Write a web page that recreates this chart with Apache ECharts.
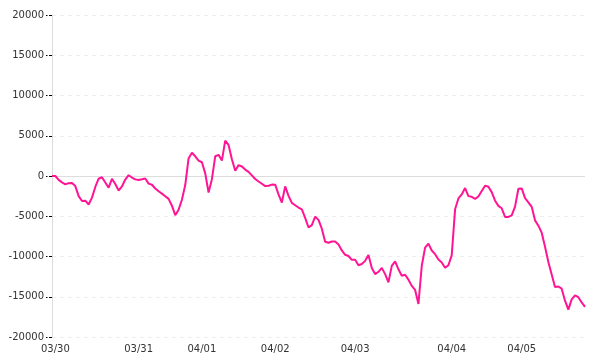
<!DOCTYPE html>
<html>
<head>
<meta charset="utf-8">
<script src="https://cdn.jsdelivr.net/npm/echarts@6/dist/echarts.min.js"></script>
<style>
html,body{margin:0;padding:0;background:#fff;}
#chart{width:600px;height:360px;}
</style>
</head>
<body>
<div id="chart"></div>
<script>
// Day labels and the index of the first point of each day
const dayLabels = ['03/30', '03/31', '04/01', '04/02', '04/03', '04/04', '04/05'];
const dayStarts = [1, 26, 45, 67, 91, 120, 141];

// Series values
const values = [
  0, 0, -480, -790, -1030, -890, -880, -1250, -2500, -3100,
  -3060, -3540, -2690, -1360, -340, -160, -800, -1450, -350, -1000,
  -1800, -1300, -440, 100, -190, -420, -490, -400, -300, -950,
  -1090, -1550, -1900, -2190, -2510, -2840, -3690, -4870, -4190, -2950,
  -1130, 2180, 2890, 2450, 1910, 1710, 330, -2050, -400, 2450,
  2630, 1920, 4400, 3860, 2090, 650, 1350, 1180, 800, 520,
  80, -370, -680, -960, -1250, -1210, -1070, -1080, -2290, -3300,
  -1290, -2470, -3340, -3630, -3920, -4160, -5200, -6400, -6100, -5060,
  -5450, -6540, -8160, -8290, -8130, -8150, -8510, -9250, -9790, -9940,
  -10410, -10410, -11080, -10940, -10540, -9800, -11430, -12180, -11900, -11410,
  -12190, -13200, -11160, -10600, -11590, -12400, -12270, -12880, -13650, -14150,
  -15900, -11150, -8900, -8400, -9250, -9710, -10380, -10740, -11400, -11080,
  -9830, -4140, -2790, -2290, -1500, -2500, -2590, -2840, -2540, -1870,
  -1200, -1330, -2000, -3070, -3710, -4010, -5090, -5090, -4880, -3800,
  -1580, -1540, -2750, -3270, -3830, -5510, -6170, -7040, -8780, -10690,
  -12250, -13800, -13730, -14000, -15490, -16600, -15330, -14830, -15060, -15710,
  -16250
];

// y-axis ticks
const yMin = -20000, yMax = 20000, yStep = 5000;

// categories built from the day labels
const categories = values.map(function (v, i) {
  let lab = '';
  for (let d = 0; d < dayStarts.length; d++) {
    if (i >= dayStarts[d]) lab = dayLabels[d];
  }
  return lab + '#' + i;
});

const chart = echarts.init(document.getElementById('chart'), null, {renderer: 'canvas'});
chart.setOption({
  animation: false,
  backgroundColor: '#ffffff',
  grid: {left: 52, right: 15, top: 15, bottom: 23, containLabel: false},
  xAxis: {
    type: 'category',
    data: categories,
    boundaryGap: false,
    axisLine: {show: false},
    axisTick: {show: false},
    splitLine: {show: false},
    axisLabel: {
      interval: function (i) { return dayStarts.indexOf(i) >= 0; },
      formatter: function (v) { return v.split('#')[0]; },
      color: '#333',
      fontFamily: 'DejaVu Sans',
      fontSize: 10,
      margin: 7
    }
  },
  yAxis: {
    type: 'value',
    min: yMin,
    max: yMax,
    interval: yStep,
    axisLine: {show: true, lineStyle: {color: '#dddddd', width: 1}},
    axisTick: {show: true, length: 6, lineStyle: {color: '#000', width: 1.2, type: [3, 1.5]}},
    axisLabel: {
      color: '#333',
      fontFamily: 'DejaVu Sans',
      fontSize: 10,
      margin: 8,
      formatter: function (v) { return String(v); }
    },
    splitLine: {show: true, lineStyle: {color: '#eeeeee', type: [4, 4], width: 1}}
  },
  series: [{
    type: 'line',
    data: values,
    showSymbol: false,
    symbol: 'none',
    smooth: false,
    lineStyle: {color: '#ff1493', width: 2},
    itemStyle: {color: '#ff1493'},
    z: 3,
    markLine: {
      silent: true,
      symbol: 'none',
      label: {show: false},
      lineStyle: {color: '#dddddd', type: 'solid', width: 1},
      data: [{yAxis: 0}],
      z: 1
    }
  }]
});
</script>
</body>
</html>
